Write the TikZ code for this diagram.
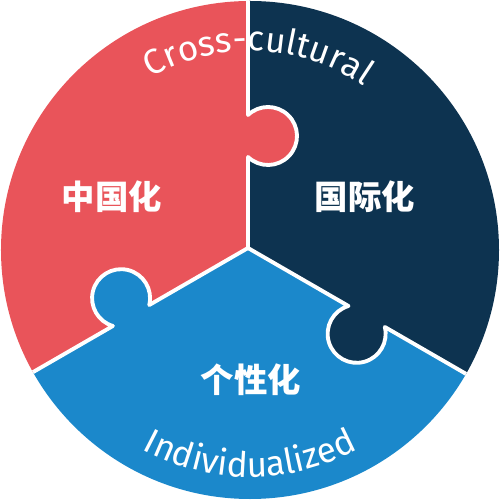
\documentclass[tikz,border=0pt]{standalone}
\usepackage{fontspec}
\setmainfont{Fira Sans}
\newfontfamily\cjk{Noto Sans CJK SC}
\usetikzlibrary{decorations.text}
\definecolor{redpiece}{HTML}{E9545A}
\definecolor{navypiece}{HTML}{0D3350}
\definecolor{bluepiece}{HTML}{1B88CB}
\tikzset{
	seam/.style={draw=white, line width=2.2pt, line join=round, line cap=round},
	piecelabel/.style={text=white, font=\cjk\bfseries\fontsize{19}{19}\selectfont},
	rimtext/.style={
		decorate,
		decoration={text along path, text align=center, text color=white,
			text={|\fontsize{20}{20}\selectfont|#1}}
	}
}
\begin{document}
\begin{tikzpicture}[x=0.02cm, y=0.02cm]
	\useasboundingbox (-250,-250) rectangle (250,250);
	\begin{scope}
		\clip (0,0) circle[radius=249];
		\fill[redpiece] (-2,2) -- +(90:400) -- +(150:400) -- +(210:400) -- cycle;
		\fill[navypiece] (-2,2) -- +(90:400) -- +(30:400) -- +(-30:400) -- cycle;
		\fill[bluepiece] (-2,2) -- +(210:400) -- +(270:400) -- +(330:400) -- cycle;
		\foreach \ang/\pos/\col in {90/112/redpiece, 210/135/bluepiece, 330/137/navypiece} {
			\begin{scope}[shift={(-2,2)}, rotate=\ang]
				\fill[\col] (\pos,-20) circle[radius=29];
				\draw[seam] (0,0) -- (\pos-21,0) arc[start angle=136.4, end angle=403.6, radius=29] -- (300,0);
			\end{scope}
		}
	\end{scope}
	\node[piecelabel] (china) at (-138,53) {中国化};
	\node[piecelabel] (world) at (115,53) {国际化};
	\node[piecelabel] (self) at (1,-130) {个性化};
	\path[rimtext=Cross-cultural] (147.5:199) arc[start angle=147.5, end angle=27.5, radius=199];
	\path[rimtext=Individualized] (205:227) arc[start angle=205, end angle=335, radius=227];
\end{tikzpicture}
\end{document}
